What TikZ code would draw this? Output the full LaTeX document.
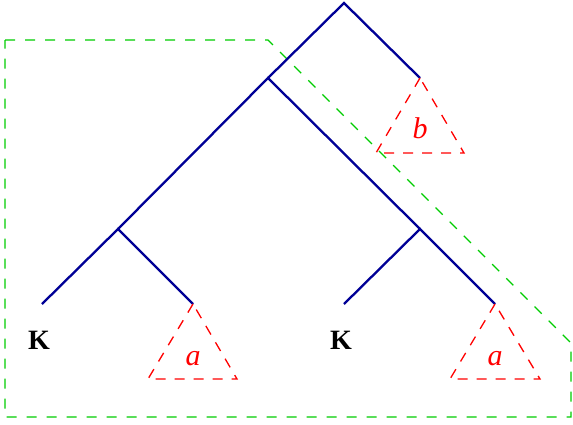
\documentclass[tikz,border=0pt]{standalone}
\usepackage{fontspec}
\setmainfont{Liberation Serif}
\usetikzlibrary{positioning}
\definecolor{treeblue}{RGB}{0,0,150}
\definecolor{zonegreen}{RGB}{0,205,0}
\definecolor{subred}{RGB}{255,0,0}

\begin{document}
\begin{tikzpicture}[
		x=1pt, y=-1pt,
		edge/.style={draw=treeblue, line width=2.3pt},
		subtree/.style={draw=subred, line width=1.3pt, dash pattern=on 10pt off 9pt},
		zone/.style={draw=zonegreen, line width=1.3pt, dash pattern=on 10pt off 10pt},
		klabel/.style={inner sep=0pt, font=\fontsize{28}{30}\selectfont\bfseries},
		vlabel/.style={inner sep=0pt, text=subred, font=\fontsize{30}{32}\selectfont\itshape}
	]
	\useasboundingbox (0,0) rectangle (573,424);
	% tree vertices
	\coordinate (root) at (344,3);
	\coordinate (n1) at (268,78);
	\coordinate (n2) at (420,78);
	\coordinate (n11) at (118,229);
	\coordinate (n12) at (420,229);
	\coordinate (n111) at (42,304);
	\coordinate (n112) at (193,304);
	\coordinate (n121) at (344,304);
	\coordinate (n122) at (495,304);
	
	% green region
	\draw[zone] (5,40) -- (268,40) -- (571,343) -- (571,417) -- (5,417) -- cycle;
	
	% branches
	\draw[edge] (n1) -- (root) -- (n2);
	\draw[edge] (n11) -- (n1) -- (n12);
	\draw[edge] (n111) -- (n11) -- (n112);
	\draw[edge] (n121) -- (n12) -- (n122);
	
	% subtrees
	\draw[subtree] (n2) -- ++(-44,75) -- ++(88,0) -- cycle;
	\draw[subtree] (n112) -- ++(-45,75) -- ++(89,0) -- cycle;
	\draw[subtree] (n122) -- ++(-45,75) -- ++(90,0) -- cycle;
	
	% labels
	\node[vlabel] (b) at (420,128) {b};
	\node[vlabel] (a1) at (193,359) {a};
	\node[vlabel] (a2) at (495,359) {a};
	\node[klabel] (k1) at (39,340) {K};
	\node[klabel] (k2) at (341,340) {K};
\end{tikzpicture}
\end{document}
